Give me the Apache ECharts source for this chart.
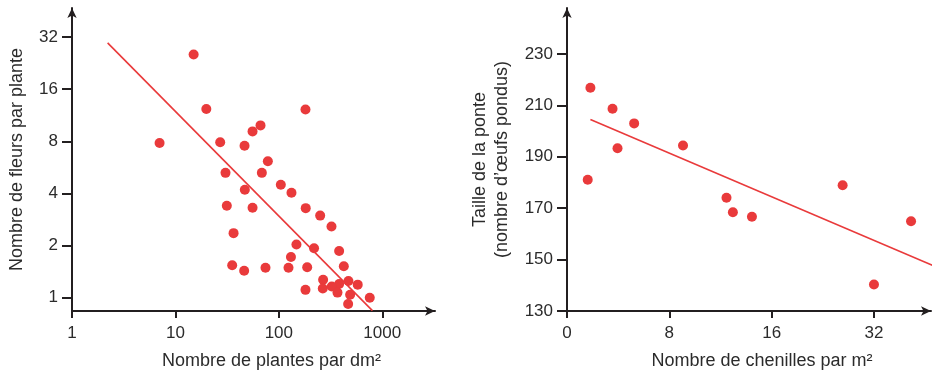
<!DOCTYPE html>
<html>
<head>
<meta charset="utf-8">
<script src="https://cdn.jsdelivr.net/npm/echarts@6/dist/echarts.min.js"></script>
<style>
  html, body { margin: 0; padding: 0; background: #fff; }
  #chart { width: 932px; height: 375px; }
</style>
</head>
<body>
<div id="chart"></div>
<script>
// graphique de gauche : plantes par dm2 / fleurs par plante (log-log)
var plantes = [15.0, 19.9, 181, 7.03, 27.1, 46.6, 55.7, 66.5, 30.5, 68.5, 78.3, 104.5, 132.5, 46.9, 31.4, 55.7, 182, 251, 323, 36.5, 148, 219, 383, 131, 35.4, 46.2, 74.3, 124, 188, 425, 268, 471, 579, 383, 266, 325, 181, 369, 489, 757, 468];
var fleurs = [25.4, 12.3, 12.2, 7.83, 7.90, 7.55, 9.13, 9.89, 5.26, 5.26, 6.14, 4.49, 4.04, 4.20, 3.40, 3.31, 3.29, 2.98, 2.58, 2.36, 2.03, 1.93, 1.86, 1.72, 1.54, 1.43, 1.49, 1.49, 1.50, 1.52, 1.27, 1.25, 1.19, 1.20, 1.13, 1.16, 1.11, 1.07, 1.04, 1.0, 0.92];
var droiteGaucheX = [2.21, 803];
var droiteGaucheY = [29.6, 0.842];
var ticksPlantes = [1, 10, 100, 1000];
var ticksFleurs = [1, 2, 4, 8, 16, 32];

// graphique de droite : chenilles par m2 / taille de la ponte
var chenilles = [1.83, 3.56, 5.25, 3.95, 1.62, 9.07, 12.47, 12.97, 14.46, 27.1, 32.0, 37.8];
var ponte = [216.9, 208.7, 203.0, 193.3, 181.1, 194.4, 174.1, 168.4, 166.7, 178.9, 140.3, 164.9];
var droiteDroiteX = [1.83, 41.3];
var droiteDroiteY = [204.5, 147.6];
var ticksChenilles = [0, 8, 16, 32];
var ticksPonte = [130, 150, 170, 190, 210, 230];

// l'axe des chenilles n'est pas régulier : 0, 8, 16, 32 sont équidistants
function pos(x) {
  return x <= 16 ? x : 16 + (x - 16) / 2;
}

var rouge = '#e93a3b';
var noir = '#231f20';
var texte = '#2b2b2b';
var police = 'Liberation Sans';

function zip(a, b, f) {
  return a.map(function (v, i) { return [f ? f(v) : v, b[i]]; });
}

function axeBase(extra) {
  var base = {
    axisLine: {
      show: true,
      onZero: false,
      symbol: ['none', 'arrow'],
      symbolSize: [7, 10],
      lineStyle: { color: noir, width: 2 }
    },
    splitLine: { show: false },
    nameTextStyle: { color: texte, fontSize: 18, fontFamily: police },
    nameLocation: 'middle'
  };
  for (var k in extra) base[k] = extra[k];
  return base;
}

var myChart = echarts.init(document.getElementById('chart'));

var option = {
  animation: false,
  grid: [
    { left: 72, top: 8, width: 363, bottom: 62, containLabel: false },
    { left: 567, top: 8, width: 364, bottom: 62, containLabel: false }
  ],
  xAxis: [
    axeBase({
      gridIndex: 0,
      type: 'log',
      logBase: 10,
      min: 1,
      max: 3236,
      name: 'Nombre de plantes par dm²',
      nameGap: 41,
      nameTextStyle: { color: texte, fontSize: 18, fontFamily: police, padding: [0, 0, 0, 36] },
      axisTick: { show: true, inside: false, length: 7, customValues: ticksPlantes, lineStyle: { color: noir, width: 2 } },
      axisLabel: {
        color: texte, fontSize: 17, fontFamily: police, margin: 14,
        customValues: ticksPlantes,
        formatter: function (v) { return String(Math.round(v)); }
      }
    }),
    axeBase({
      gridIndex: 1,
      type: 'value',
      min: 0,
      max: 28.46,
      name: 'Nombre de chenilles par m²',
      nameGap: 41,
      nameTextStyle: { color: texte, fontSize: 18, fontFamily: police, padding: [0, 0, 0, 26] },
      axisTick: { show: true, length: 7, customValues: ticksChenilles.map(pos), lineStyle: { color: noir, width: 2 } },
      axisLabel: {
        color: texte, fontSize: 17, fontFamily: police, margin: 14,
        customValues: ticksChenilles.map(pos),
        formatter: function (v) {
          var i = ticksChenilles.map(pos).indexOf(v);
          return i >= 0 ? String(ticksChenilles[i]) : '';
        }
      }
    })
  ],
  yAxis: [
    axeBase({
      gridIndex: 0,
      type: 'log',
      logBase: 2,
      min: 0.838,
      max: 47.1,
      name: 'Nombre de fleurs par plante',
      nameGap: 46,
      axisTick: { show: true, length: 10, customValues: ticksFleurs, lineStyle: { color: noir, width: 2 } },
      axisLabel: {
        color: texte, fontSize: 17, fontFamily: police, margin: 14,
        customValues: ticksFleurs,
        formatter: function (v) { return String(Math.round(v)); }
      }
    }),
    axeBase({
      gridIndex: 1,
      type: 'value',
      min: 130,
      max: 247.9,
      name: 'Taille de la ponte\n(nombre d’œufs pondus)',
      nameGap: 54,
      nameTextStyle: { color: texte, fontSize: 18, fontFamily: police, lineHeight: 22 },
      axisTick: { show: true, length: 10, customValues: ticksPonte, lineStyle: { color: noir, width: 2 } },
      axisLabel: {
        color: texte, fontSize: 17, fontFamily: police, margin: 14,
        customValues: ticksPonte
      }
    })
  ],
  series: [
    {
      type: 'line',
      xAxisIndex: 0,
      yAxisIndex: 0,
      data: zip(droiteGaucheX, droiteGaucheY),
      symbol: 'none',
      lineStyle: { color: rouge, width: 1.6 },
      z: 2
    },
    {
      type: 'scatter',
      xAxisIndex: 0,
      yAxisIndex: 0,
      data: zip(plantes, fleurs),
      symbolSize: 10,
      itemStyle: { color: rouge, opacity: 1 },
      z: 3
    },
    {
      type: 'line',
      xAxisIndex: 1,
      yAxisIndex: 1,
      data: zip(droiteDroiteX, droiteDroiteY, pos),
      symbol: 'none',
      lineStyle: { color: rouge, width: 1.6 },
      clip: true,
      z: 2
    },
    {
      type: 'scatter',
      xAxisIndex: 1,
      yAxisIndex: 1,
      data: zip(chenilles, ponte, pos),
      symbolSize: 10,
      itemStyle: { color: rouge, opacity: 1 },
      z: 3
    }
  ]
};

myChart.setOption(option);
</script>
</body>
</html>
